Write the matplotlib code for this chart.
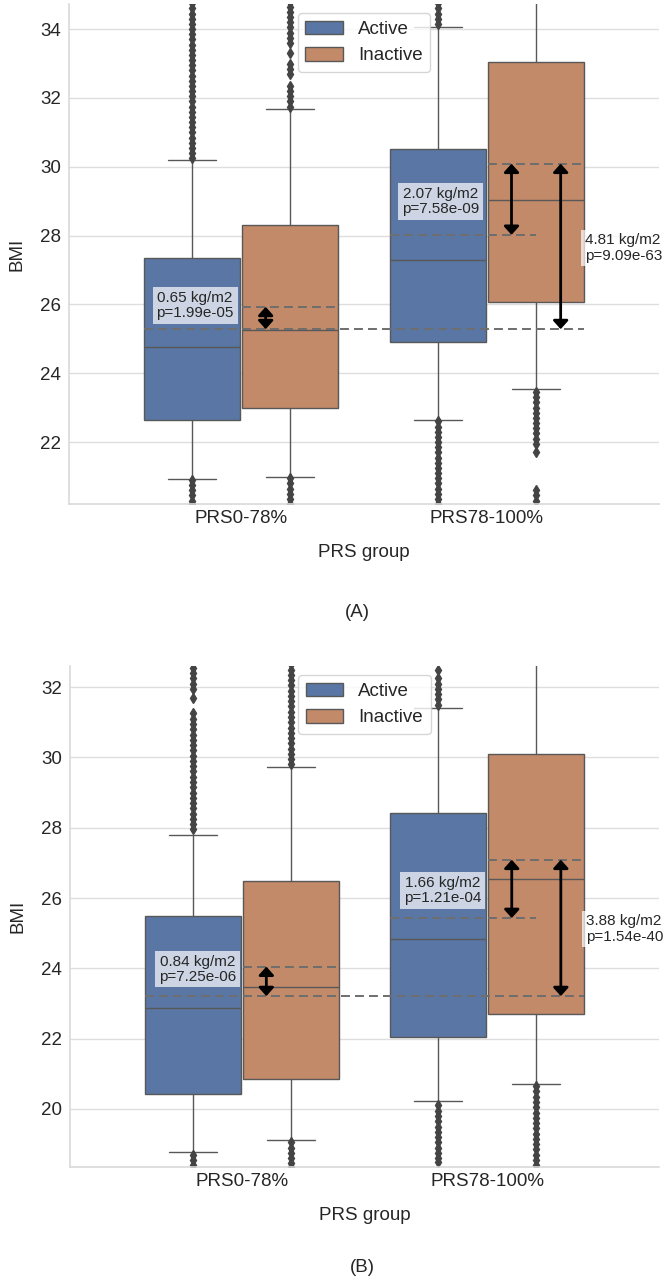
import matplotlib
matplotlib.use("Agg")
import matplotlib.pyplot as plt
import seaborn as sns
from matplotlib.patches import Patch

sns.set_style("whitegrid")
plt.rcParams['font.family'] = ['Liberation Sans', 'DejaVu Sans']

# ---------------- data ----------------
groups = ["PRS0-78%", "PRS78-100%"]
hues = ["Active", "Inactive"]

# order of boxes: PRS0-78% Active, PRS0-78% Inactive, PRS78-100% Active, PRS78-100% Inactive
A_q1 = [22.64, 22.99, 24.90, 26.06]
A_med = [24.75, 25.27, 27.28, 29.04]
A_q3 = [27.36, 28.32, 30.52, 33.04]
A_whislo = [20.93, 20.99, 22.64, 23.54]
A_whishi = [30.20, 31.68, 34.06, 36.50]
A_fl0 = [30.25, 30.4, 30.55, 30.7, 30.85, 31.0, 31.15, 31.3, 31.45, 31.6, 31.75,
         31.9, 32.05, 32.2, 32.35, 32.5, 32.65, 32.8, 32.95, 33.1, 33.25, 33.4,
         33.55, 33.7, 33.85, 34.0, 34.15, 34.3, 34.45, 34.6, 34.75,
         20.9, 20.75, 20.6, 20.45, 20.3, 20.2]
A_fl1 = [31.75, 31.9, 32.05, 32.2, 32.35, 32.7, 32.85, 33.0, 33.3, 33.6, 33.75,
         33.9, 34.05, 34.2, 34.35, 34.5, 34.65, 34.8,
         20.95, 20.8, 20.65, 20.5, 20.35, 20.2]
A_fl2 = [34.15, 34.3, 34.45, 34.6, 34.75,
         22.6, 22.45, 22.3, 22.15, 22.0, 21.85, 21.7, 21.55, 21.4, 21.25, 21.1,
         20.95, 20.8, 20.65, 20.5, 20.35, 20.2]
A_fl3 = [23.45, 23.3, 23.15, 23.0, 22.85, 22.7, 22.55, 22.4, 22.25, 22.1, 21.95,
         21.7, 20.6, 20.45, 20.3]
A_means = [25.28, 25.93, 28.02, 30.09]
A_diff = ["0.65", "2.07", "4.81"]
A_p = ["1.99e-05", "7.58e-09", "9.09e-63"]

B_q1 = [20.43, 20.85, 22.05, 22.70]
B_med = [22.87, 23.47, 24.83, 26.54]
B_q3 = [25.49, 26.48, 28.42, 30.09]
B_whislo = [18.78, 19.12, 20.23, 20.72]
B_whishi = [27.80, 29.72, 31.40, 34.00]
B_fl0 = [27.95, 28.1, 28.25, 28.4, 28.55, 28.7, 28.85, 29.0, 29.15, 29.3, 29.45,
         29.6, 29.75, 29.9, 30.05, 30.2, 30.35, 30.5, 30.65, 30.8, 30.95, 31.1,
         31.25, 31.7, 31.95, 32.1, 32.25, 32.4, 32.55, 32.7,
         18.7, 18.55, 18.4]
B_fl1 = [29.8, 29.95, 30.1, 30.25, 30.4, 30.55, 30.7, 30.85, 31.0, 31.15, 31.3,
         31.45, 31.6, 31.75, 31.9, 32.05, 32.2, 32.35, 32.5, 32.65,
         19.05, 18.9, 18.75, 18.6, 18.45, 18.35]
B_fl2 = [31.5, 31.65, 31.8, 31.95, 32.1, 32.25, 32.5,
         20.1, 19.95, 19.8, 19.65, 19.5, 19.35, 19.2, 19.05, 18.9, 18.75, 18.6, 18.5]
B_fl3 = [20.65, 20.5, 20.35, 20.2, 20.05, 19.9, 19.75, 19.6, 19.45, 19.3, 19.15,
         19.0, 18.85, 18.7, 18.55, 18.4]
B_means = [23.21, 24.05, 25.43, 27.09]
B_diff = ["0.84", "1.66", "3.88"]
B_p = ["7.25e-06", "1.21e-04", "1.54e-40"]

A_yticks = [22, 24, 26, 28, 30, 32, 34]
B_yticks = [20, 22, 24, 26, 28, 30, 32]

# ---------------- style ----------------
colors = ["#5A76A5", "#C28A69"]
gray = "#585858"
W, H = 666, 1279
fig = plt.figure(figsize=(W / 100, H / 100), dpi=100)

FS = 13.5
FS_SMALL = 11.0
positions = [-0.2, 0.2, 0.8, 1.2]
bw = 0.392


def draw(ax, q1, med, q3, lo, hi, fliers, means, diffs, ps, ylim, yticks, tpos):
    stats = []
    for i in range(4):
        stats.append(dict(q1=q1[i], med=med[i], q3=q3[i], whislo=lo[i],
                          whishi=hi[i], fliers=fliers[i]))
    bp = ax.bxp(stats, positions=positions, widths=bw, patch_artist=True,
                showfliers=True,
                boxprops=dict(edgecolor=gray, linewidth=1.0),
                medianprops=dict(color=gray, linewidth=1.0),
                whiskerprops=dict(color=gray, linewidth=1.0),
                capprops=dict(color=gray, linewidth=1.0),
                flierprops=dict(marker='d', markersize=4.8, markerfacecolor='#444444',
                                markeredgecolor='#444444', linestyle='none'))
    for patch, c in zip(bp['boxes'], colors * 2):
        patch.set_facecolor(c)

    dkw = dict(colors="#6e6e6e", linestyles=(0, (4.6, 2.6)), linewidth=1.4, zorder=4)
    ax.hlines(means[0], positions[0] - bw / 2, positions[3] + bw / 2, **dkw)
    ax.hlines(means[1], positions[1] - bw / 2, positions[1] + bw / 2, **dkw)
    ax.hlines(means[2], positions[2] - bw / 2, positions[3], **dkw)
    ax.hlines(means[3], positions[3] - bw / 2, positions[3] + bw / 2, **dkw)

    akw = dict(arrowstyle='<|-|>,head_length=0.5,head_width=0.45', color='black',
               lw=2.0, mutation_scale=10, shrinkA=0, shrinkB=0)
    pairs = [(0.1, means[0], means[1]), (1.1, means[2], means[3]), (1.3, means[0], means[3])]
    for x, y0, y1 in pairs:
        ax.annotate('', xy=(x, y0), xytext=(x, y1), arrowprops=akw, zorder=5)

    bbox = dict(boxstyle='square,pad=0.25', facecolor='white', alpha=0.7, edgecolor='none')
    for (tx, ty, ha), d, p in zip(tpos, diffs, ps):
        ax.text(tx, ty, f"{d} kg/m2\np={p}", ha=ha, va='center', fontsize=FS_SMALL,
                color='#262626', bbox=bbox, zorder=6, linespacing=1.1)

    ax.set_xlim(-0.7, 1.7)
    ax.set_ylim(*ylim)
    ax.set_xticks([0, 1])
    ax.set_xticklabels(groups)
    ax.set_yticks(yticks)
    ax.xaxis.grid(False)
    ax.yaxis.grid(True, color='#dedede', linewidth=1.0)
    ax.set_axisbelow(True)
    for s in ['top', 'right']:
        ax.spines[s].set_visible(False)
    for s in ['left', 'bottom']:
        ax.spines[s].set_color('#d9d9d9')
        ax.spines[s].set_linewidth(1.2)
    ax.tick_params(axis='both', labelsize=FS, colors='#262626', length=0)
    ax.tick_params(axis='y', pad=5.5)
    ax.tick_params(axis='x', pad=4)
    ax.set_xlabel("PRS group", fontsize=FS, color='#262626', labelpad=12.5)
    ax.set_ylabel("BMI", fontsize=FS, color='#262626', labelpad=11)
    handles = [Patch(facecolor=c, edgecolor=gray, linewidth=1.0, label=h)
               for c, h in zip(colors, hues)]
    ax.legend(handles=handles, loc='upper center', fontsize=FS, frameon=True)


axA = fig.add_axes([69 / W, 1 - 504 / H, 590 / W, 500 / H])
draw(axA, A_q1, A_med, A_q3, A_whislo, A_whishi, [A_fl0, A_fl1, A_fl2, A_fl3],
     A_means, A_diff, A_p, (20.2, 34.73), A_yticks,
     [(-0.187, 25.96, 'center'), (0.811, 28.99, 'center'), (1.398, 27.64, 'left')])

axB = fig.add_axes([70 / W, 1 - 1167 / H, 589 / W, 501 / H])
draw(axB, B_q1, B_med, B_q3, B_whislo, B_whishi, [B_fl0, B_fl1, B_fl2, B_fl3],
     B_means, B_diff, B_p, (18.35, 32.6), B_yticks,
     [(-0.181, 23.98, 'center'), (0.817, 26.21, 'center'), (1.402, 25.12, 'left')])

fig.text(357 / W, 1 - 612 / H, "(A)", ha='center', va='center', fontsize=FS, color='#262626')
fig.text(362 / W, 1 - 1267 / H, "(B)", ha='center', va='center', fontsize=FS, color='#262626')

fig.savefig("out.png", dpi=100)
